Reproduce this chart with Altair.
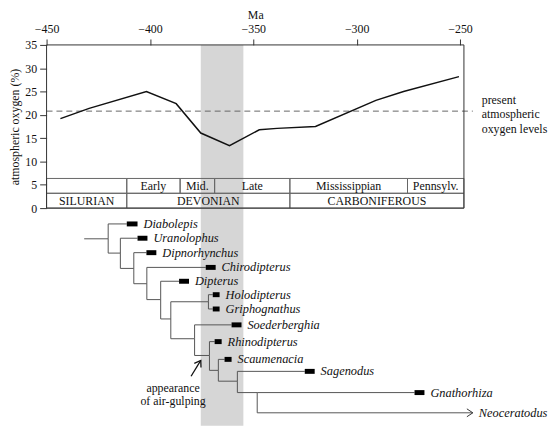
import altair as alt
import pandas as pd

SERIF = "Liberation Serif"

# ---------------- data ----------------
# atmospheric oxygen curve (Ma, %)
o2_ma = [-443.3, -429.4, -401.7, -387.3, -375.4, -361.5, -347.1, -338.5, -319.9, -290.7, -277.3, -250.5]
o2_pct = [19.2, 21.4, 25.0, 22.4, 16.1, 13.4, 16.8, 17.1, 17.5, 23.1, 25.0, 28.2]
present_level = 20.8
present_text = ["present", "atmospheric", "oxygen levels"]
present_text_y = [23.1, 20.15, 17.0]

# shaded interval
band_ma = [-375.4, -354.8]

# geological time scale table
sub_names = ["", "Early", "Mid.", "Late", "Mississippian", "Pennsylv."]
sub_bounds = [-450, -411.2, -385.4, -368.7, -332.3, -275.4, -248.1]
per_names = ["SILURIAN", "DEVONIAN", "CARBONIFEROUS"]
per_bounds = [-450, -411.2, -332.3, -248.1]
table_levels = [0, 3.18, 6.36]

# cladogram: terminal taxa
taxa = ["Diabolepis", "Uranolophus", "Dipnorhynchus", "Chirodipterus", "Dipterus",
        "Holodipterus", "Griphognathus", "Soederberghia", "Rhinodipterus", "Scaumenacia",
        "Sagenodus", "Gnathorhiza", "Neoceratodus"]
taxon_parent = ["A", "B", "C", "D", "E", "G", "G", "H", "I", "J", "K", "L", "L"]
taxon_row = [0.00, 0.99, 1.99, 3.01, 3.97, 4.90, 5.89, 6.99, 8.15, 9.38, 10.21, 11.68, 13.08]
bar_start = [-411.2, -406.0, -401.7, -373.0, -385.9, -369.6, -369.6, -360.5, -368.7, -363.9,
             -325.1, -272.0, -243.8]
bar_end = [-406.0, -401.2, -396.9, -368.2, -381.1, -366.3, -366.3, -355.7, -365.3, -360.5,
           -320.3, -267.2, -243.8]
has_bar = [True] * 12 + [False]

# cladogram: internal nodes
nodes = ["A", "B", "C", "D", "E", "F", "G", "H", "I", "J", "K", "L"]
node_parent = ["", "A", "B", "C", "D", "E", "F", "F", "H", "I", "J", "K"]
node_ma = [-420.2, -414.3, -407.8, -401.5, -394.8, -389.9, -371.7, -378.4, -371.2, -366.9, -357.7, -348.1]
node_row = [1.03, 2.02, 3.08, 4.14, 5.24, 6.58, 5.39, 7.95, 9.11, 10.14, 10.89, 11.68]
root_start_ma = -431.8

# annotation
note_lines = ["appearance", "of air-gulping"]
note_ma = -388.8
note_rows = [11.37, 12.26]
note_arrow = {"tail_ma": -380.1, "tail_row": 10.55, "tip_ma": -375.4, "tip_row": 9.45}

# ---------------- layout ----------------
W, H = 422, 385
X_DOMAIN = [-450, -248.1]
O2_TOP, O2_PX = 35, 165          # 0..35 % spans 165 px
ROW_PX, ROW0_OFFSET = 14.6, 181  # tree rows: row 0 sits 181 px below plot top

xscale = alt.Scale(domain=X_DOMAIN, nice=False, zero=False)
xaxis = alt.Axis(orient="top", values=[-450, -400, -350, -300, -250], title="Ma",
                 domain=False, grid=False, tickSize=6, labelPadding=4, titleY=-24,
                 labelFlush=False, labelFont=SERIF, titleFont=SERIF, labelFontSize=12,
                 titleFontSize=12, titleFontWeight="normal")
o2scale = alt.Scale(domain=[O2_TOP - H * O2_TOP / O2_PX, O2_TOP], nice=False, zero=False)
o2axis = alt.Axis(values=[0, 5, 10, 15, 20, 25, 30, 35], title="atmospheric oxygen (%)",
                  domain=False, grid=False, tickSize=7, labelPadding=3,
                  titleX=-32, titleY=O2_PX / 2, titleAngle=270, titleBaseline="middle",
                  titleAlign="center", labelFont=SERIF, titleFont=SERIF, labelFontSize=12,
                  titleFontSize=12, titleFontWeight="normal")
rowscale = alt.Scale(domain=[-ROW0_OFFSET / ROW_PX, (H - ROW0_OFFSET) / ROW_PX],
                     reverse=True, nice=False, zero=False)


def X(f):
    return alt.X(f, type="quantitative", scale=xscale, axis=xaxis)


def YO(f):
    return alt.Y(f, type="quantitative", scale=o2scale, axis=o2axis)


def YT(f):
    return alt.Y(f, type="quantitative", scale=rowscale, axis=None)


# ---------------- upper panel ----------------
band_df = pd.DataFrame({"ma": [band_ma[0]], "ma2": [band_ma[1]]})
band = alt.Chart(band_df).mark_rect(color="#d6d6d6").encode(x=X("ma"), x2="ma2")

o2_df = pd.DataFrame({"ma": o2_ma, "o2": o2_pct})
line = alt.Chart(o2_df).mark_line(color="#111", strokeWidth=1.5).encode(x=X("ma"), y=YO("o2"))

pres_df = pd.DataFrame({"ma": [X_DOMAIN[0]], "ma2": [-243.8], "o2": [present_level]})
pres = alt.Chart(pres_df).mark_rule(color="#666", strokeWidth=1, strokeDash=[6, 4]).encode(
    x=X("ma"), x2="ma2", y=YO("o2"))

ptxt_df = pd.DataFrame({"ma": [-239.5] * 3, "o2": present_text_y, "label": present_text})
ptxt = alt.Chart(ptxt_df).mark_text(align="left", baseline="middle", font=SERIF, fontSize=12,
                                   color="#111").encode(x=X("ma"), y=YO("o2"), text="label:N")

cells = []
for i, n in enumerate(sub_names):
    cells.append({"ma": sub_bounds[i], "ma2": sub_bounds[i + 1], "o2": table_levels[1],
                  "o22": table_levels[2], "label": n})
for i, n in enumerate(per_names):
    cells.append({"ma": per_bounds[i], "ma2": per_bounds[i + 1], "o2": table_levels[0],
                  "o22": table_levels[1], "label": n})
cells_df = pd.DataFrame(cells)
cells_df["mid"] = (cells_df["ma"] + cells_df["ma2"]) / 2
cells_df["ymid"] = (cells_df["o2"] + cells_df["o22"]) / 2
table = alt.Chart(cells_df).mark_rect(fillOpacity=0, stroke="#666", strokeWidth=1).encode(
    x=X("ma"), x2="ma2", y=YO("o2"), y2="o22")
table_txt = alt.Chart(cells_df).mark_text(align="center", baseline="middle", font=SERIF,
                                          fontSize=12, color="#111").encode(
    x=X("mid"), y=YO("ymid"), text="label:N")

frame_df = pd.DataFrame({"ma": [X_DOMAIN[0]], "ma2": [X_DOMAIN[1]], "o2": [0], "o22": [O2_TOP]})
frame = alt.Chart(frame_df).mark_rect(fillOpacity=0, stroke="#333", strokeWidth=1).encode(
    x=X("ma"), x2="ma2", y=YO("o2"), y2="o22")

upper = alt.layer(band, pres, table, table_txt, line, frame, ptxt)

# ---------------- cladogram ----------------
npos = {n: (m, r) for n, m, r in zip(nodes, node_ma, node_row)}
segs = [{"ma": root_start_ma, "row": npos["A"][1], "ma2": npos["A"][0], "row2": npos["A"][1]}]
for n, p in zip(nodes, node_parent):
    if not p:
        continue
    pm, pr = npos[p]
    m, r = npos[n]
    segs.append({"ma": pm, "row": pr, "ma2": pm, "row2": r})
    segs.append({"ma": pm, "row": r, "ma2": m, "row2": r})
for t, p, r, s in zip(taxa, taxon_parent, taxon_row, bar_start):
    pm, pr = npos[p]
    segs.append({"ma": pm, "row": pr, "ma2": pm, "row2": r})
    segs.append({"ma": pm, "row": r, "ma2": s, "row2": r})
seg_df = pd.DataFrame(segs)
tree = alt.Chart(seg_df).mark_rule(color="#555", strokeWidth=1).encode(
    x=X("ma"), x2="ma2", y=YT("row"), y2="row2")

leaf_df = pd.DataFrame({"taxon": taxa, "row": taxon_row, "ma": bar_start, "ma2": bar_end,
                        "bar": has_bar})
bars = alt.Chart(leaf_df[leaf_df["bar"]]).mark_rule(color="#000", strokeWidth=5, strokeCap="butt").encode(
    x=X("ma"), x2="ma2", y=YT("row"))
labels = alt.Chart(leaf_df).mark_text(align="left", baseline="middle", dx=6, font=SERIF,
                                      fontSize=12.5, fontStyle="italic", color="#111").encode(
    x=X("ma2"), y=YT("row"), text="taxon:N")

CHEVRON = "M -1.5 -1 L 0 0 L -1.5 1"
neo_df = leaf_df[~leaf_df["bar"]]
neo_head = alt.Chart(neo_df).mark_point(shape=CHEVRON, filled=False, size=64, color="#333",
                                        strokeWidth=1, opacity=1).encode(x=X("ma2"), y=YT("row"))

arr_df = pd.DataFrame({"ma": [note_arrow["tail_ma"]], "row": [note_arrow["tail_row"]],
                       "ma2": [note_arrow["tip_ma"]], "row2": [note_arrow["tip_row"]]})
arr_line = alt.Chart(arr_df).mark_rule(color="#111", strokeWidth=1.3).encode(
    x=X("ma"), x2="ma2", y=YT("row"), y2="row2")
arr_head = alt.Chart(arr_df).mark_point(shape=CHEVRON, filled=False, size=64, angle=302,
                                        color="#111", strokeWidth=1.3, opacity=1).encode(
    x=X("ma2"), y=YT("row2"))
note_df = pd.DataFrame({"ma": [note_ma] * 2, "row": note_rows, "label": note_lines})
note = alt.Chart(note_df).mark_text(align="center", baseline="middle", font=SERIF, fontSize=12,
                                    color="#111").encode(x=X("ma"), y=YT("row"), text="label:N")

lower = alt.layer(tree, bars, labels, neo_head, arr_line, arr_head, note)

chart = alt.layer(upper, lower).resolve_scale(y="independent").properties(
    width=W, height=H,
    autosize=alt.AutoSizeParams(type="none"),
    padding={"left": 39, "top": 35, "right": 85, "bottom": 0},
    background="white",
).configure(font=SERIF).configure_view(strokeWidth=0).configure_axis(
    labelFont=SERIF, titleFont=SERIF, labelFontSize=12, titleFontSize=12,
    titleFontWeight="normal", labelColor="#111", titleColor="#111", tickColor="#333",
)

chart.save("out.html", embed_options={"renderer": "svg", "actions": False})
